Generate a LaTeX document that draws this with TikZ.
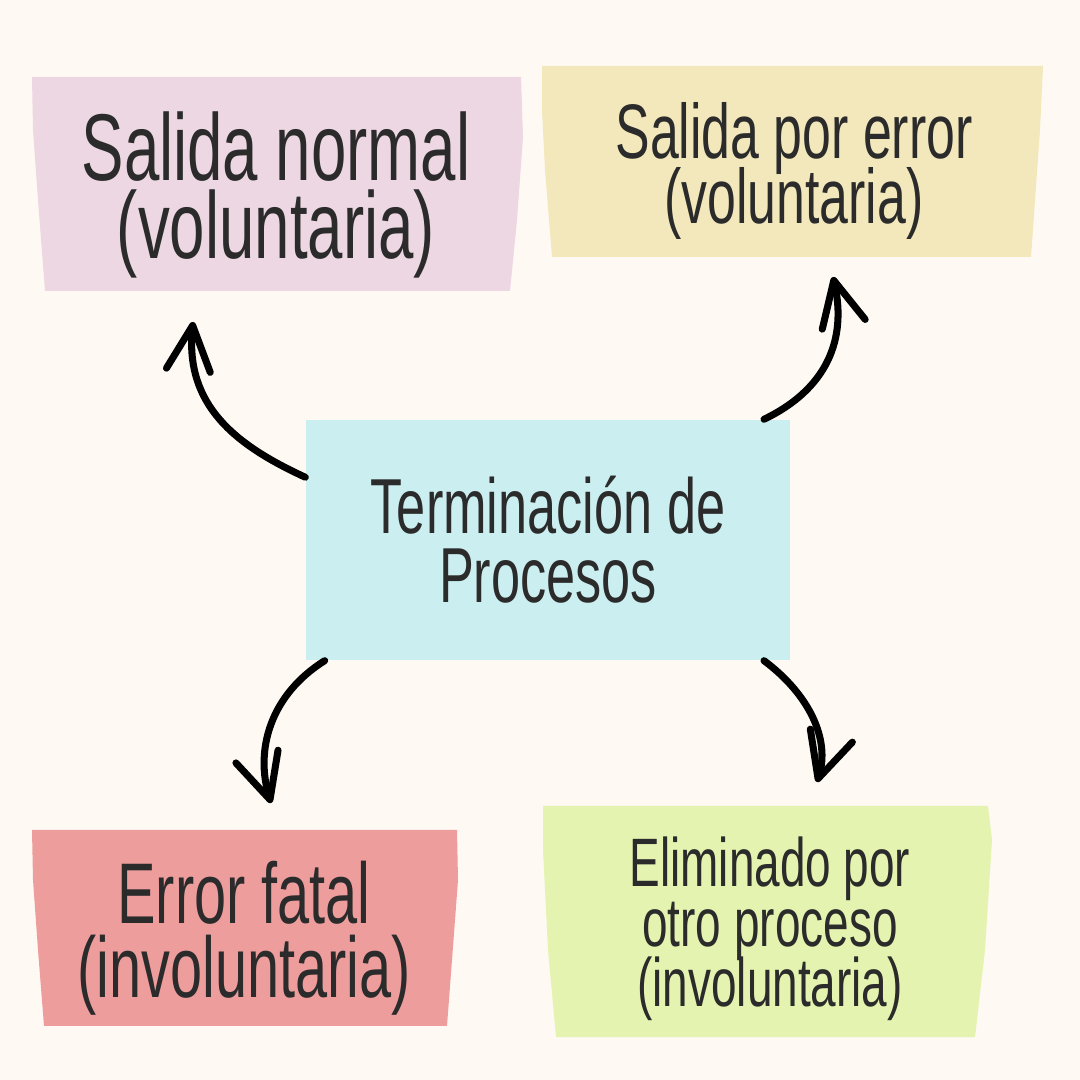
\documentclass[tikz,border=0pt]{standalone}
\usepackage{fontspec}
\setmainfont{Liberation Sans}[FakeStretch=0.67]
\usetikzlibrary{calc, positioning, arrows.meta}
\definecolor{fondo}{RGB}{254,249,242}
\definecolor{rosa}{RGB}{237,215,227}
\definecolor{amarillo}{RGB}{243,232,188}
\definecolor{celeste}{RGB}{203,238,240}
\definecolor{rojo}{RGB}{238,157,157}
\definecolor{verde}{RGB}{228,244,176}
\definecolor{tinta}{RGB}{43,43,43}
\tikzset{
  boxtext/.style={text=tinta, align=center, inner sep=0pt},
  flecha/.style={line width=2pt, line cap=round, line join=round,
    -{Straight Barb[length=4.5mm, width=4.4mm, round]}}
}
\newcommand{\fsize}[2]{\fontsize{#1}{#2}\selectfont\lineskiplimit=-30pt}

\begin{document}
\begin{tikzpicture}
\fill[fondo] (0,0) rectangle (10.8,10.8);
\useasboundingbox (0,0) rectangle (10.8,10.8);

% papeles
\fill[rosa] (0.32,10.03) -- (5.21,10.03) -- (5.23,9.43) -- (5.17,8.60) -- (5.10,7.89) -- (0.45,7.89) -- (0.38,8.80) -- (0.33,9.50) -- cycle;
\fill[amarillo] (5.42,10.14) -- (10.43,10.14) -- (10.40,9.50) -- (10.31,8.23) -- (5.52,8.23) -- (5.45,9.10) -- (5.42,9.70) -- cycle;
\fill[rojo] (0.32,2.50) -- (4.57,2.50) -- (4.58,2.00) -- (4.52,1.20) -- (4.47,0.54) -- (0.44,0.54) -- (0.38,1.30) -- (0.33,2.00) -- cycle;
\fill[verde] (5.43,2.74) -- (9.88,2.74) -- (9.92,2.40) -- (9.85,1.30) -- (9.75,0.43) -- (5.56,0.43) -- (5.48,1.30) -- (5.43,2.30) -- cycle;

\node[boxtext, fill=celeste, minimum width=4.84cm, minimum height=2.40cm,
  font=\fsize{22.2pt}{19.6pt}] (term) at (5.48,5.40) {Terminación de\\Procesos};

\node[boxtext, font=\fsize{27pt}{22.4pt}] (normal) at (2.76,8.85) {Salida normal\\(voluntaria)};
\node[boxtext, font=\fsize{22pt}{18.7pt}] (porerror) at (7.94,9.09) {Salida por error\\(voluntaria)};
\node[boxtext, font=\fsize{24.5pt}{21pt}] (fatal) at (2.44,1.415) {Error fatal\\(involuntaria)};
\node[boxtext, font=\fsize{19.5pt}{17pt}] (eliminado) at (7.70,1.51) {Eliminado por\\otro proceso\\(involuntaria)};

% puntas de las flechas
\coordinate (tl0) at ($(term.north west)!0.24!(term.south west)$);
\coordinate (tr0) at ($(term.north west)!0.945!(term.north east)$);
\coordinate (bl0) at ($(term.south west)!0.04!(term.south east)$);
\coordinate (br0) at ($(term.south west)!0.945!(term.south east)$);
\coordinate (tl1) at (1.93,7.58);
\coordinate (tr1) at (8.33,8.03);
\coordinate (bl1) at (2.71,2.77);
\coordinate (br1) at (8.17,2.98);

\draw [flecha] (tl0) .. controls (2.35,6.35) and (1.85,6.75) .. (tl1);
\draw [flecha] (tr0) .. controls (8.35,6.95) and (8.45,7.50) .. (tr1);
\draw [flecha] (bl0) .. controls (2.70,3.85) and (2.55,3.30) .. (bl1);
\draw [flecha] (br0) .. controls (8.10,3.85) and (8.30,3.40) .. (br1);
\end{tikzpicture}
\end{document}
